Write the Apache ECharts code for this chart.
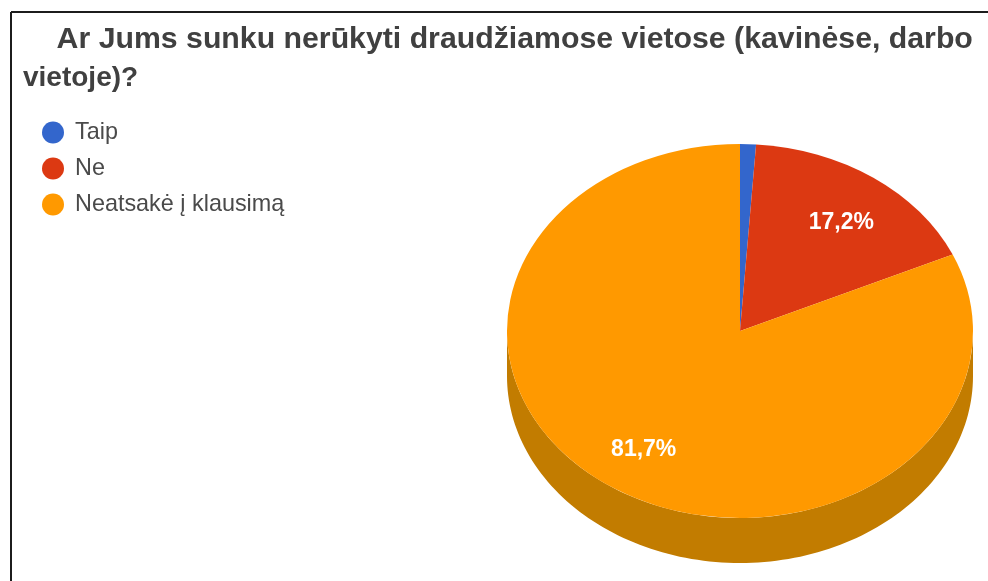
<!DOCTYPE html>
<html>
<head>
<meta charset="utf-8">
<style>html,body{margin:0;padding:0;background:#fff}#c{width:988px;height:581px}</style>
<script src="https://cdn.jsdelivr.net/npm/echarts@6/dist/echarts.min.js"></script>
</head>
<body>
<div id="c"></div>
<script>
var titleLines = ['    Ar Jums sunku nerūkyti draudžiamose vietose (kavinėse, darbo', 'vietoje)?'];
var categories = ['Taip', 'Ne', 'Neatsakė į klausimą'];
var values = [1.1, 17.2, 81.7];
var labels = ['', '17,2%', '81,7%'];
var colors = ['#3366cc', '#dc3912', '#ff9900'];
var wallColors = ['#264d99', '#a52b0e', '#c27c00'];

var FONT = '"Liberation Sans", Arial, sans-serif';
var CX = 740, CY = 331, RX = 233, RY = 187, DEPTH = 45;
var LABEL_RX = 0.76, LABEL_RY = 0.733, LABEL_DY = 4;
var total = values.reduce(function (a, b) { return a + b; }, 0);
var starts = [];
values.reduce(function (acc, v, i) { starts[i] = acc; return acc + v; }, 0);

function renderSlice(params, api) {
  var i = params.seriesIndex;
  var a0 = -Math.PI / 2 + api.value(1) / total * Math.PI * 2;
  var a1 = a0 + api.value(0) / total * Math.PI * 2;
  var children = [];
  var w0 = Math.max(a0, 0), w1 = Math.min(a1, Math.PI);
  if (w1 > w0) {
    var pts = [], n = 120, k, t;
    for (k = 0; k <= n; k++) {
      t = w0 + (w1 - w0) * k / n;
      pts.push([CX + RX * Math.cos(t), CY + RY * Math.sin(t)]);
    }
    for (k = n; k >= 0; k--) {
      t = w0 + (w1 - w0) * k / n;
      pts.push([CX + RX * Math.cos(t), CY + DEPTH + RY * Math.sin(t)]);
    }
    children.push({ type: 'polygon', shape: { points: pts }, style: { fill: wallColors[i] } });
  }
  children.push({
    type: 'sector', x: CX, y: CY, scaleY: RY / RX,
    shape: { cx: 0, cy: 0, r0: 0, r: RX, startAngle: a0, endAngle: a1, clockwise: true },
    style: { fill: colors[i] }
  });
  if (labels[i]) {
    var m = (a0 + a1) / 2;
    children.push({
      type: 'text',
      x: CX + RX * LABEL_RX * Math.cos(m),
      y: CY + LABEL_DY + RY * LABEL_RY * Math.sin(m),
      style: {
        text: labels[i], fill: '#fff', align: 'center', verticalAlign: 'middle',
        font: 'bold 23px ' + FONT
      }
    });
  }
  return { type: 'group', children: children };
}

var chart = echarts.init(document.getElementById('c'), null, { renderer: 'canvas' });
chart.setOption({
  animation: false,
  backgroundColor: '#fff',
  title: {
    text: '{a|' + titleLines[0] + '}\n{b|' + titleLines[1] + '}',
    left: 18, top: 15,
    textStyle: {
      fontFamily: FONT, fontWeight: 'bold', color: '#404040',
      rich: {
        a: { fontFamily: FONT, fontWeight: 'bold', color: '#404040', fontSize: 30.25, lineHeight: 39 },
        b: { fontFamily: FONT, fontWeight: 'bold', color: '#404040', fontSize: 28, lineHeight: 39 }
      }
    }
  },
  legend: {
    orient: 'vertical', left: 37, top: 116,
    itemWidth: 22, itemHeight: 22, itemGap: 13, icon: 'circle',
    selectedMode: false,
    textStyle: {
      fontFamily: FONT, fontSize: 23.4, color: '#4a4a4a', padding: [0, 0, 0, 6]
    },
    data: categories
  },
  graphic: [
    { type: 'line', shape: { x1: 11, y1: 12, x2: 988, y2: 12 }, style: { stroke: '#1c1c1c', lineWidth: 2 } },
    { type: 'line', shape: { x1: 11, y1: 12, x2: 11, y2: 581 }, style: { stroke: '#1c1c1c', lineWidth: 2 } }
  ],
  series: categories.map(function (name, i) {
    return {
      type: 'custom', name: name, coordinateSystem: 'none',
      itemStyle: { color: colors[i] },
      silent: true,
      renderItem: renderSlice,
      data: [[values[i], starts[i]]]
    };
  })
});
</script>
</body>
</html>
